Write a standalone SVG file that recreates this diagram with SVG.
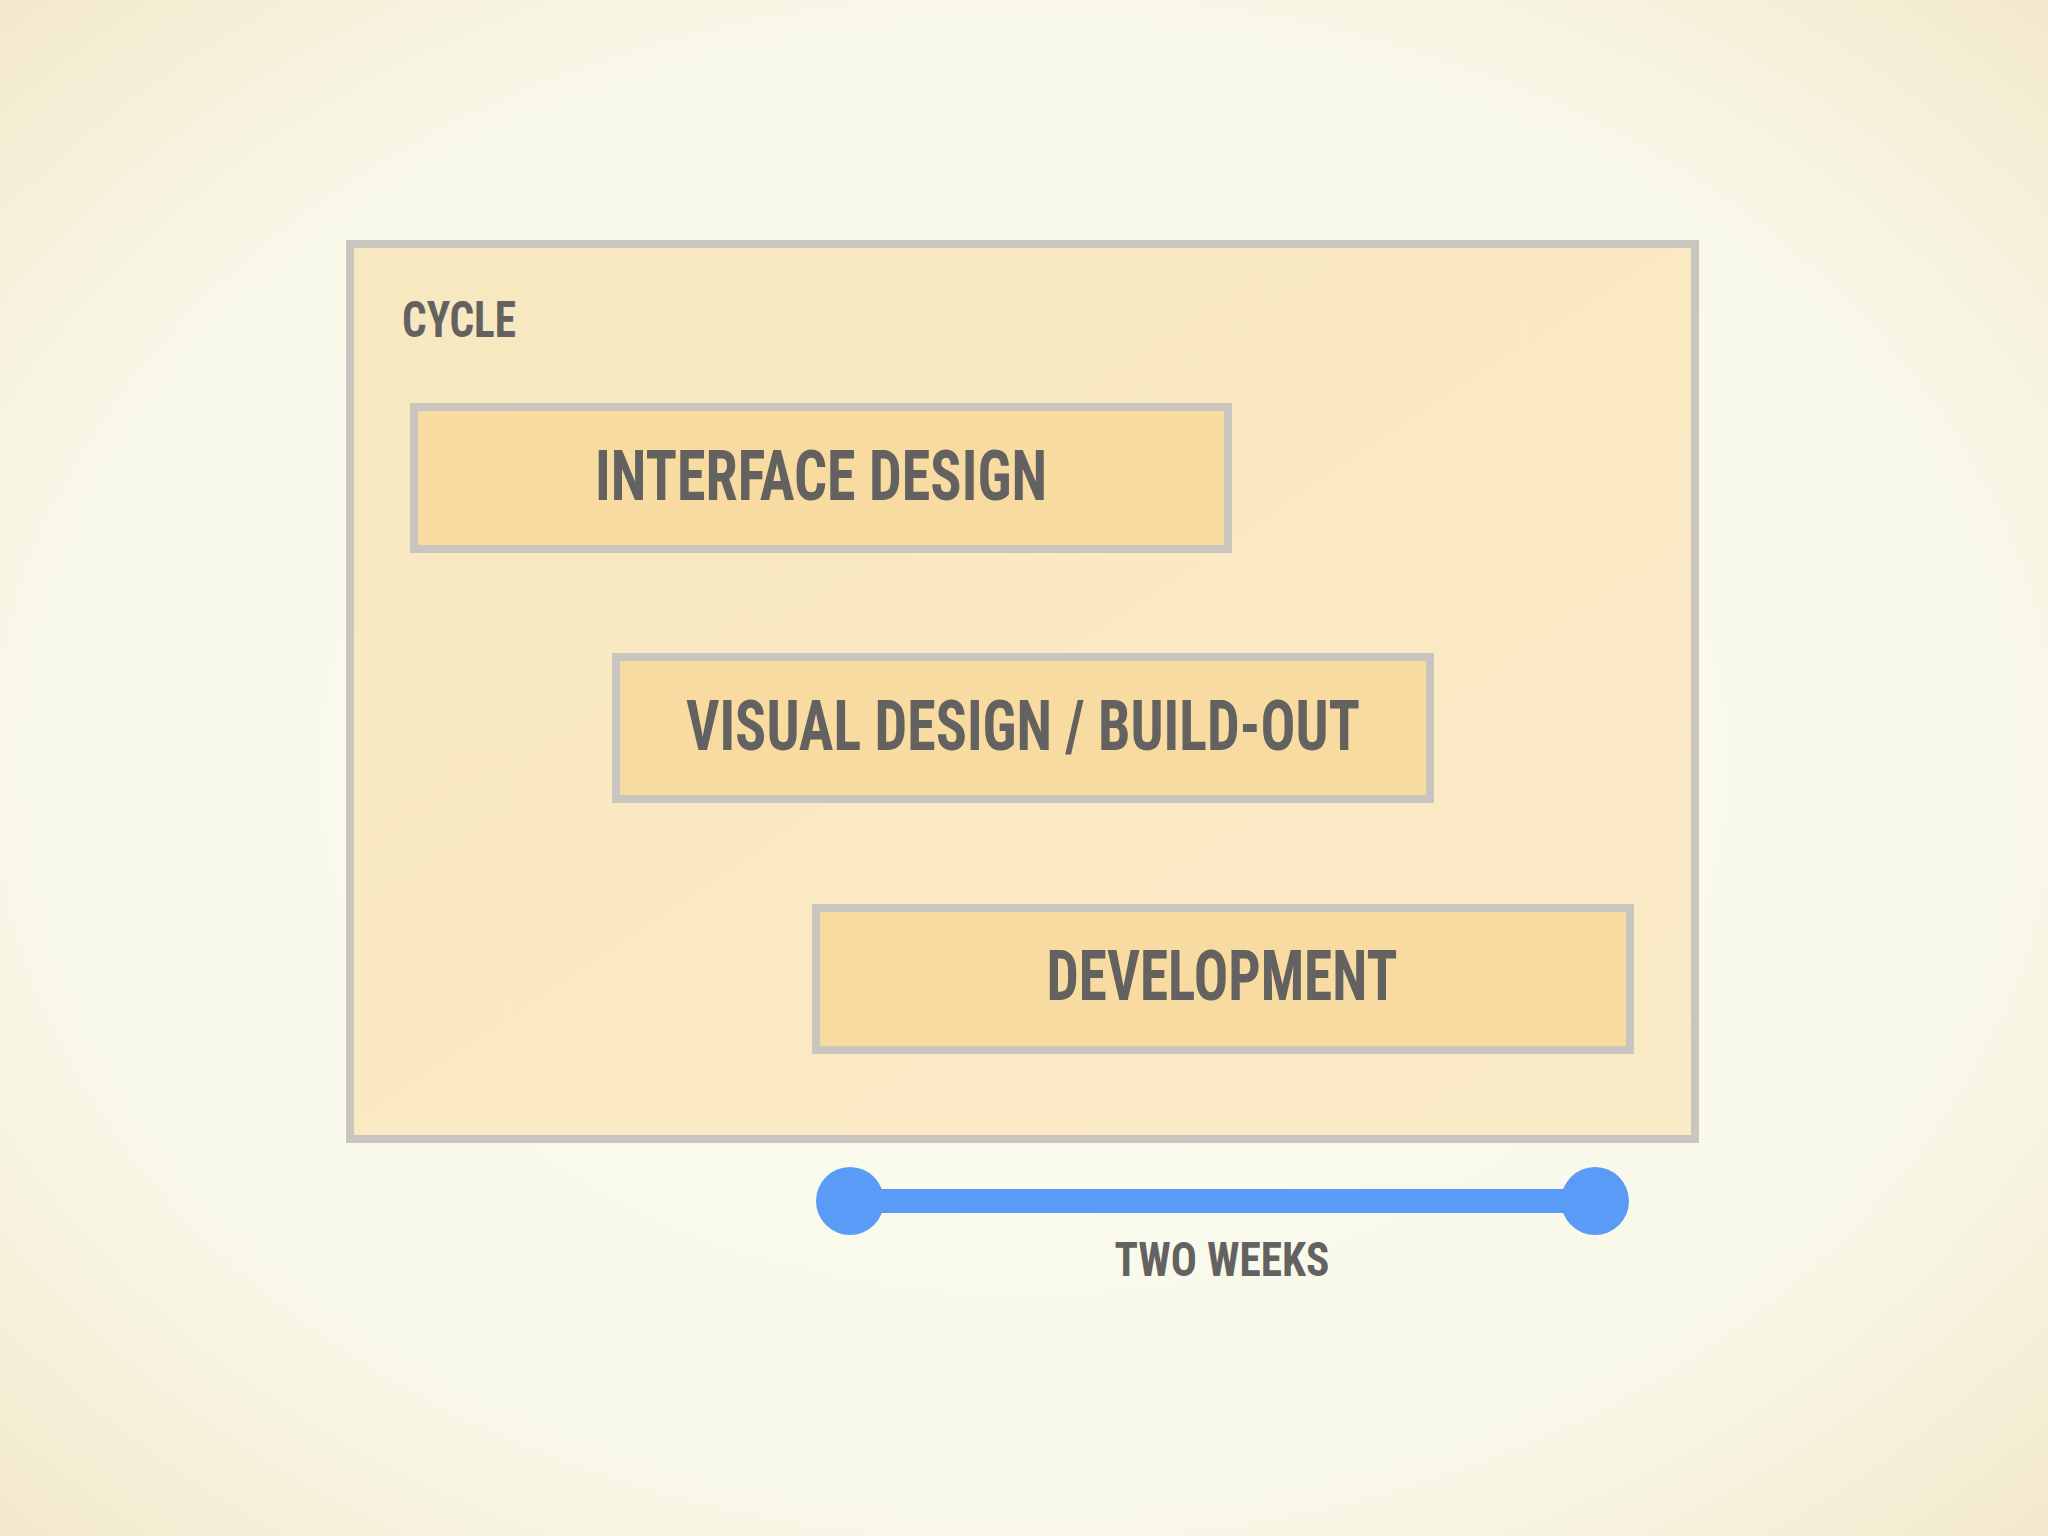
<svg xmlns="http://www.w3.org/2000/svg" width="2048" height="1536" viewBox="0 0 2048 1536">
<defs>
<radialGradient id="bg" cx="50%" cy="50%" r="80%">
<stop offset="0" stop-color="#fafbf0"/><stop offset="0.6" stop-color="#f9f9ea"/><stop offset="1" stop-color="#f0e2c0"/>
</radialGradient>
<linearGradient id="fr" x1="0" y1="0" x2="1" y2="1">
<stop offset="0" stop-color="#f8e8c0"/><stop offset="1" stop-color="#fbeac6"/>
</linearGradient>
</defs>
<style>
.t{font-family:"Liberation Sans Narrow","Roboto Condensed","Liberation Sans",sans-serif;font-weight:bold;fill:#636260;text-anchor:middle}
.b{fill:#f8dba0;stroke:#c9c6c0;stroke-width:8}
</style>
<rect width="2048" height="1536" fill="url(#bg)"/>
<g id="cycle">
<rect x="350" y="244" width="1345" height="895" fill="url(#fr)" stroke="#c9c6c0" stroke-width="8"/>
<text class="t" x="402" y="337" font-size="50" style="text-anchor:start" textLength="114" lengthAdjust="spacingAndGlyphs">CYCLE</text>
</g>
<g id="interface">
<rect class="b" x="414" y="407" width="814" height="142"/>
<text class="t" x="821" y="500" font-size="70" textLength="452" lengthAdjust="spacingAndGlyphs">INTERFACE DESIGN</text>
</g>
<g id="visual">
<rect class="b" x="616" y="657" width="814" height="142"/>
<text class="t" x="1023" y="750" font-size="70" textLength="674" lengthAdjust="spacingAndGlyphs">VISUAL DESIGN / BUILD-OUT</text>
</g>
<g id="development">
<rect class="b" x="816" y="908" width="814" height="142"/>
<text class="t" x="1222" y="1000" font-size="70" textLength="351" lengthAdjust="spacingAndGlyphs">DEVELOPMENT</text>
</g>
<g id="connectors">
<line x1="850" y1="1201" x2="1595" y2="1201" stroke="#5b9bf8" stroke-width="24"/>
<circle cx="850" cy="1201" r="34" fill="#5b9bf8"/>
<circle cx="1595" cy="1201" r="34" fill="#5b9bf8"/>
</g>
<g id="label">
<text class="t" x="1222" y="1276" font-size="48" textLength="215" lengthAdjust="spacingAndGlyphs">TWO WEEKS</text>
</g>
</svg>
